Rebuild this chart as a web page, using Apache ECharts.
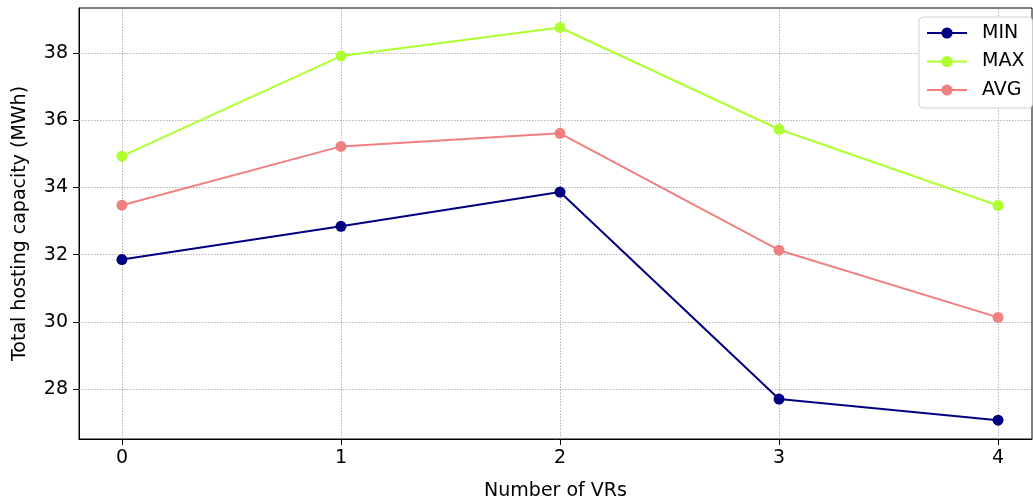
<!DOCTYPE html>
<html>
<head>
<meta charset="utf-8">
<script src="https://cdn.jsdelivr.net/npm/echarts@6/dist/echarts.min.js"></script>
<style>html,body{margin:0;padding:0;background:#fff;}#c{width:1033px;height:504px;}</style>
</head>
<body>
<div id="c"></div>
<script>
const xValues = [0, 1, 2, 3, 4];
const minValues = [31.85, 32.84, 33.86, 27.70, 27.07];
const maxValues = [34.93, 37.91, 38.76, 35.73, 33.46];
const avgValues = [33.47, 35.22, 35.61, 32.13, 30.13];
const yTicks = [28, 30, 32, 34, 36, 38];
const xTicks = [0, 1, 2, 3, 4];

const FONT = 'DejaVu Sans';
const FS = 19;
const gridLineStyle = {color: '#a0a0a0', width: 0.8, type: [1.5, 1.5]};

function pts(vals) { return xValues.map((x, i) => [x, vals[i]]); }

const gridMarks = xTicks.map(v => ({xAxis: v})).concat(yTicks.map(v => ({yAxis: v})));

const chart = echarts.init(document.getElementById('c'), null, {renderer: 'canvas'});
chart.setOption({
  animation: false,
  backgroundColor: '#fff',
  textStyle: {fontFamily: FONT},
  grid: {left: 79, right: 1, top: 8, bottom: 65, show: true, borderColor: '#000', borderWidth: 1,
         backgroundColor: 'transparent', containLabel: false, outerBoundsMode: 'none'},
  legend: {
    left: 919, top: 17, orient: 'vertical',
    padding: [6, 8, 8, 7],
    itemWidth: 40, itemHeight: 14, itemGap: 8.5,
    backgroundColor: '#fff', borderColor: '#d0d0d0', borderWidth: 1, borderRadius: 4,
    textStyle: {fontFamily: FONT, fontSize: FS, color: '#000', lineHeight: 20, padding: [0, 0, 0, 10]},
    data: ['MIN', 'MAX', 'AVG']
  },
  xAxis: {
    type: 'value', min: -0.196, max: 4.155,
    name: 'Number of VRs', nameLocation: 'middle', nameGap: 43,
    nameTextStyle: {fontFamily: FONT, fontSize: FS, color: '#000'},
    axisLine: {show: true, onZero: false, lineStyle: {color: '#000', width: 1}},
    axisTick: {show: true, customValues: xTicks, length: 6, lineStyle: {color: '#000', width: 1}},
    axisLabel: {customValues: xTicks, fontFamily: FONT, fontSize: FS, color: '#000', margin: 10},
    splitLine: {show: false}
  },
  yAxis: {
    type: 'value', min: 26.51, max: 39.34,
    name: 'Total hosting capacity (MWh)', nameLocation: 'middle', nameGap: 49,
    nameTextStyle: {fontFamily: FONT, fontSize: FS, color: '#000'},
    axisLine: {show: true, onZero: false, lineStyle: {color: '#000', width: 1}},
    axisTick: {show: true, customValues: yTicks, length: 6, lineStyle: {color: '#000', width: 1}},
    axisLabel: {customValues: yTicks, fontFamily: FONT, fontSize: FS, color: '#000', margin: 11},
    splitLine: {show: false}
  },
  series: [
    {name: 'MIN', type: 'line', data: pts(minValues), color: '#000080', symbol: 'circle', symbolSize: 11,
     lineStyle: {width: 2}, z: 3,
     markLine: {silent: true, z: 1, symbol: 'none', label: {show: false}, lineStyle: gridLineStyle, emphasis: {disabled: true}, data: gridMarks}},
    {name: 'MAX', type: 'line', data: pts(maxValues), color: '#adff2f', symbol: 'circle', symbolSize: 11, lineStyle: {width: 2}, z: 4},
    {name: 'AVG', type: 'line', data: pts(avgValues), color: '#f08080', symbol: 'circle', symbolSize: 11, lineStyle: {width: 2}, z: 5}
  ]
});
</script>
</body>
</html>
